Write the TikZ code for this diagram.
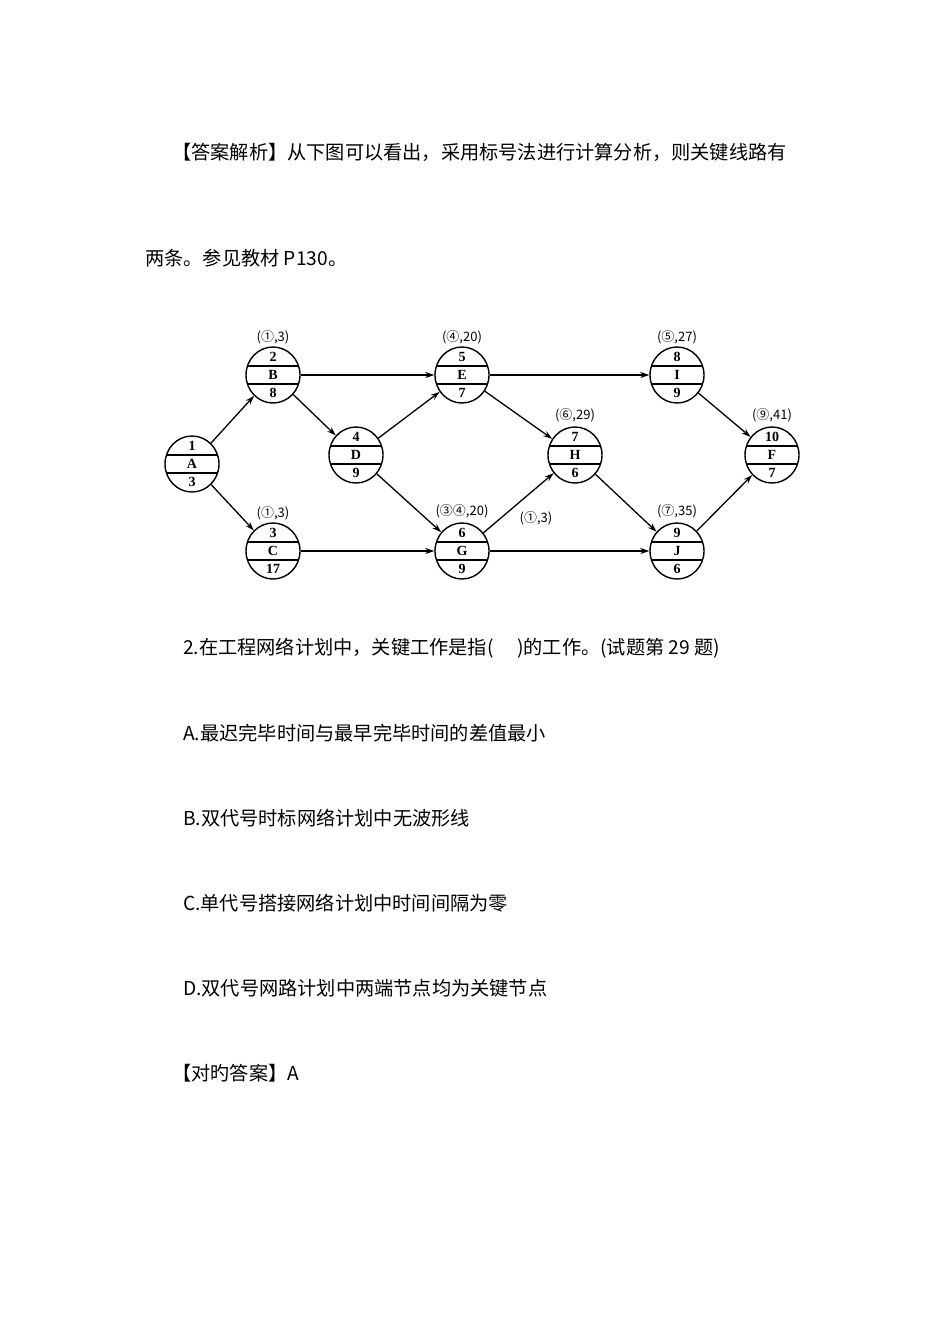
\documentclass[tikz,border=0pt]{standalone}
\usepackage{fontspec}
\setmainfont{Liberation Serif}
\newfontfamily\cjk{Noto Sans CJK SC}
\usetikzlibrary{shapes.geometric,arrows.meta}
\tikzset{
 nd/.style={ellipse,draw,line width=1.4pt,minimum width=54pt,minimum height=56pt,inner sep=0pt},
 lab/.style={font=\fontsize{14}{14}\selectfont\bfseries},
 ann/.style={font=\cjk\fontsize{13}{13}\selectfont},
 txt/.style={font=\cjk\fontsize{19.2}{19.2}\selectfont,anchor=west,inner sep=0pt},
 ed/.style={line width=1.3pt,-{Stealth[length=9pt,width=6pt]}}
}
\newcommand{\mknode}[6]{%
 \node[nd] (#1) at (#2,#3) {};
 \draw[line width=1.1pt] ([xshift=-25.6pt,yshift=9pt]#1.center) -- ([xshift=25.6pt,yshift=9pt]#1.center);
 \draw[line width=1.1pt] ([xshift=-25.6pt,yshift=-9pt]#1.center) -- ([xshift=25.6pt,yshift=-9pt]#1.center);
 \node[lab] (#1t) at ([yshift=18pt]#1.center) {#4};
 \node[lab] (#1m) at (#1.center) {#5};
 \node[lab] (#1b) at ([yshift=-18pt]#1.center) {#6};
}
\begin{document}
\begin{tikzpicture}[x=1pt,y=-1pt]
\useasboundingbox (0,0) rectangle (950,1344);
\node[txt] (l1) at (172,152) {【答案解析】从下图可以看出，采用标号法进行计算分析，则关键线路有};
\node[txt] (l2) at (145,258) {两条。参见教材 P130。};
\mknode{A}{192}{464}{1}{A}{3}
\mknode{B}{273}{375}{2}{B}{8}
\mknode{C}{273}{551}{3}{C}{17}
\mknode{D}{356}{455}{4}{D}{9}
\mknode{E}{462}{375}{5}{E}{7}
\mknode{G}{462}{551}{6}{G}{9}
\mknode{H}{575}{455}{7}{H}{6}
\mknode{I}{677}{375}{8}{I}{9}
\mknode{J}{677}{551}{9}{J}{6}
\mknode{F}{772}{455}{10}{F}{7}
\node[ann] (aB) at (273,337) {(①,3)};
\node[ann] (aC) at (273,513) {(①,3)};
\node[ann] (aE) at (462,337) {(④,20)};
\node[ann] (aG) at (462,511) {(③④,20)};
\node[ann] (aH) at (575,415) {(⑥,29)};
\node[ann] (aI) at (677,337) {(⑤,27)};
\node[ann] (aJ) at (677,511) {(⑦,35)};
\node[ann] (aF) at (772,415) {(⑨,41)};
\node[ann] (aX) at (536,518) {(①,3)};
\draw[ed] (A) -- (B);
\draw[ed] (A) -- (C);
\draw[ed] (B) -- (E);
\draw[ed] (B) -- (D);
\draw[ed] (D) -- (E);
\draw[ed] (D) -- (G);
\draw[ed] (C) -- (G);
\draw[ed] (E) -- (I);
\draw[ed] (E) -- (H);
\draw[ed] (G) -- (H);
\draw[ed] (G) -- (J);
\draw[ed] (H) -- (J);
\draw[ed] (I) -- (F);
\draw[ed] (J) -- (F);
\node[txt] (q) at (183,648) {2.在工程网络计划中，关键工作是指(\quad\ )的工作。(试题第 29 题)};
\node[txt] (qa) at (183,733) {A.最迟完毕时间与最早完毕时间的差值最小};
\node[txt] (qb) at (183,818) {B.双代号时标网络计划中无波形线};
\node[txt] (qc) at (183,903) {C.单代号搭接网络计划中时间间隔为零};
\node[txt] (qd) at (183,988) {D.双代号网路计划中两端节点均为关键节点};
\node[txt] (ans) at (172,1073) {【对旳答案】A};
\end{tikzpicture}
\end{document}
